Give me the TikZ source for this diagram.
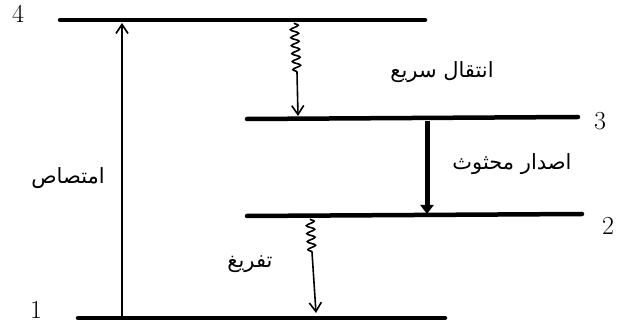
\documentclass[tikz,border=0pt]{standalone}
\usepackage{fontspec}
\newfontfamily\arabicfont[Script=Arabic]{DejaVu Sans}
\TeXXeTstate=1
\usetikzlibrary{decorations.pathmorphing,arrows.meta}
\tikzset{
  level/.style={line width=4.5pt, line cap=round},
  arr/.style={line width=1.6pt, -{Straight Barb[length=9pt,width=12pt]}},
  thickarr/.style={line width=5pt, -{Triangle[length=9pt,width=13pt]}},
  wiggle/.style={decorate, decoration={snake, amplitude=4pt, segment length=8pt}, line width=1.6pt},
  lab/.style={font=\arabicfont\fontsize{21}{24}\selectfont, inner sep=1pt},
  num/.style={font=\fontsize{26}{28}\selectfont, inner sep=1pt}
}
\begin{document}
\begin{tikzpicture}[x=1pt,y=-1pt]
\useasboundingbox (0,0) rectangle (635,328);
% levels
\coordinate (L4a) at (60,20);  \coordinate (L4b) at (425,20);
\coordinate (L3a) at (247,119); \coordinate (L3b) at (578,117);
\coordinate (L2a) at (247,216); \coordinate (L2b) at (582,214);
\coordinate (L1a) at (78,318); \coordinate (L1b) at (445,318);
\draw[level] (L4a) -- (L4b);
\draw[level] (L3a) -- (L3b);
\draw[level] (L2a) -- (L2b);
\draw[level] (L1a) -- (L1b);
% absorption
\coordinate (abs1) at (122,316);
\coordinate (abs4) at (122,23);
\draw[arr] (abs1) -- (abs4);
% fast transition 4->3
\coordinate (f0) at (294,23);
\coordinate (f1) at (297,72);
\coordinate (f3) at (298,116);
\draw[wiggle] (f0) -- (f1);
\draw[arr] (f1) -- (f3);
% stimulated emission 3->2
\coordinate (s3) at (427,121);
\coordinate (s2) at (427,214);
\draw[thickarr] (s3) -- (s2);
% decay 2->1
\coordinate (d0) at (310,219);
\coordinate (d1) at (312,252);
\coordinate (d2) at (316,313);
\draw[wiggle] (d0) -- (d1);
\draw[arr] (d1) -- (d2);
% labels
\node[lab] (t1) at (442,72) {\beginR انتقال سریع\endR};
\node[lab] (t2) at (68,178) {\beginR امتصاص\endR};
\node[lab] (t3) at (512,164) {\beginR اصدار محثوث\endR};
\node[lab] (t4) at (250,264) {\beginR تفريغ\endR};
\node[num] (n4) at (18,14) {4};
\node[num] (n3) at (600,121) {3};
\node[num] (n2) at (608,226) {2};
\node[num] (n1) at (36,310) {1};
\end{tikzpicture}
\end{document}
